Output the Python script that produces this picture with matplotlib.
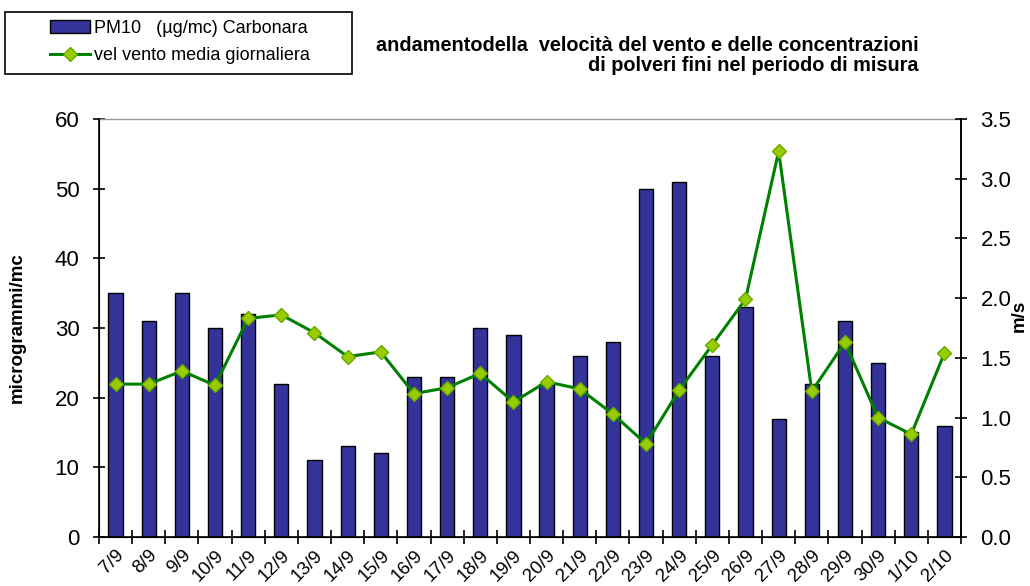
import matplotlib.pyplot as plt
from matplotlib.patches import Rectangle
import numpy as np

days = ["7/9", "8/9", "9/9", "10/9", "11/9", "12/9", "13/9", "14/9", "15/9",
        "16/9", "17/9", "18/9", "19/9", "20/9", "21/9", "22/9", "23/9", "24/9",
        "25/9", "26/9", "27/9", "28/9", "29/9", "30/9", "1/10", "2/10"]
pm10 = [35, 31, 35, 30, 32, 22, 11, 13, 12, 23, 23, 30, 29, 22, 26, 28,
        50, 51, 26, 33, 17, 22, 31, 25, 15, 16]
vento = [1.28, 1.28, 1.39, 1.27, 1.83, 1.86, 1.71, 1.51, 1.55, 1.20, 1.25,
         1.37, 1.13, 1.30, 1.24, 1.03, 0.78, 1.23, 1.61, 1.99, 3.23, 1.22,
         1.63, 1.00, 0.86, 1.54]

plt.rcParams['font.family'] = ['Liberation Sans', 'DejaVu Sans']

W, H = 1030, 586
fig = plt.figure(figsize=(10.3, 5.86), dpi=100)
ax = fig.add_axes([0.0961, 0.0836, 0.8369, 0.7134])
x = np.arange(len(days))
bars = ax.bar(x, pm10, width=0.43, color="#333399", edgecolor="black", linewidth=1.0, zorder=2)
ax.set_xlim(-0.5, len(days) - 0.5)
ax.set_ylim(0, 60)
ax.set_yticks(range(0, 61, 10))
ax.tick_params(axis='y', direction='inout', length=8, labelsize=16, width=1.2, pad=10)
ax.set_xticks(np.arange(len(days) + 1) - 0.5, minor=False)
ax.set_xticklabels([])
ax.set_xticks(x, minor=True)
ax.set_xticklabels(days, minor=True, rotation=45, ha='right', rotation_mode='anchor', fontsize=13.5)
ax.tick_params(axis='x', which='major', direction='inout', length=10, width=1.2)
ax.tick_params(axis='x', which='minor', length=0, pad=7)
ax.set_ylabel("microgrammi/mc", fontsize=13.5, fontweight='bold')
ax.yaxis.set_label_coords(-0.085, 0.5)
for s in ['left', 'right', 'bottom']:
    ax.spines[s].set_linewidth(1.2)
ax.spines['top'].set_color('#999999')
ax.spines['top'].set_linewidth(1.0)

ax2 = ax.twinx()
line, = ax2.plot(x, vento, color="#008000", linewidth=2.2, marker='D', markersize=7,
                 markerfacecolor="#99CC00", markeredgecolor="#66AA00", zorder=3)
ax2.set_ylim(0, 3.5)
ax2.set_yticks(np.arange(0, 3.51, 0.5))
ax2.set_yticklabels(["%.1f" % v for v in np.arange(0, 3.51, 0.5)])
ax2.tick_params(axis='y', direction='inout', length=8, labelsize=16, width=1.2, pad=10)
ax2.set_ylabel("m/s", fontsize=13.5, fontweight='bold')
ax2.yaxis.set_label_coords(1.058, 0.53)
ax2.spines['right'].set_linewidth(1.2)
ax2.spines['top'].set_visible(False)

# legend box drawn separately to get the wide left margin of the original
fig.patches.append(Rectangle((5 / W, 1 - 74 / H), 347 / W, 62 / H, transform=fig.transFigure,
                             fill=False, edgecolor='black', linewidth=1.2))
fig.legend([bars, line], ["PM10   (µg/mc) Carbonara", "vel vento media giornaliera"],
           loc='upper left', bbox_to_anchor=(50 / W, 1 - 20 / H), fontsize=13,
           frameon=False, handlelength=2.2, handletextpad=0.25, borderpad=0,
           borderaxespad=0, labelspacing=0.55)

fig.text(0.892, 0.905, "andamentodella  velocità del vento e delle concentrazioni\ndi polveri fini nel periodo di misura",
         ha='right', va='center', fontsize=14.3, fontweight='bold', multialignment='right', linespacing=1.1)

fig.savefig("out.png", dpi=100)
